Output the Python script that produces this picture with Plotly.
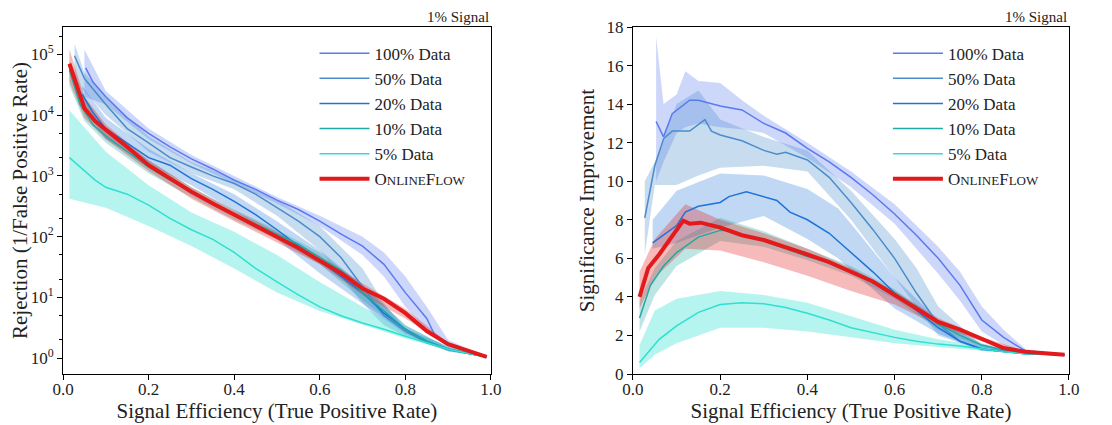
import plotly.graph_objects as go

# ---- data (x = signal efficiency) ----
# significance improvement (right panel)
x100_si = [0.053, 0.07, 0.09, 0.13, 0.15, 0.2, 0.25, 0.3, 0.35, 0.4, 0.45, 0.5, 0.55, 0.6, 0.65, 0.7, 0.75, 0.8, 0.85, 0.9, 0.95, 0.99]
y100_si = [13.1, 12.3, 13.5, 14.2, 14.2, 13.9, 13.7, 13.0, 12.5, 11.7, 11.0, 10.2, 9.3, 8.3, 7.2, 6.0, 4.6, 2.8, 1.9, 1.2, 1.05, 1.0]
x50_si = [0.027, 0.05, 0.07, 0.09, 0.13, 0.165, 0.18, 0.2, 0.25, 0.3, 0.33, 0.35, 0.4, 0.45, 0.5, 0.55, 0.6, 0.65, 0.7, 0.75, 0.8, 0.9, 0.99]
y50_si = [8.1, 10.8, 12.2, 12.6, 12.6, 13.2, 12.6, 12.4, 12.1, 11.6, 11.4, 11.5, 11.1, 10.2, 8.9, 7.5, 6.0, 4.2, 2.6, 1.7, 1.3, 1.05, 1.0]
x20_si = [0.045, 0.07, 0.1, 0.12, 0.15, 0.2, 0.22, 0.26, 0.3, 0.33, 0.36, 0.4, 0.45, 0.5, 0.55, 0.6, 0.65, 0.7, 0.75, 0.8, 0.9, 0.99]
y20_si = [6.8, 7.2, 7.7, 8.4, 8.7, 8.9, 9.2, 9.45, 9.2, 9.0, 8.4, 8.0, 7.3, 6.3, 5.3, 4.2, 3.3, 2.4, 1.7, 1.3, 1.05, 1.0]
x10_si = [0.015, 0.04, 0.07, 0.1, 0.15, 0.2, 0.22, 0.25, 0.3, 0.35, 0.4, 0.45, 0.5, 0.55, 0.6, 0.65, 0.7, 0.75, 0.8, 0.85, 0.9, 0.99]
y10_si = [2.9, 4.6, 5.6, 6.3, 7.1, 7.45, 7.45, 7.2, 6.9, 6.5, 6.1, 5.8, 5.3, 4.8, 4.2, 3.5, 2.6, 2.0, 1.5, 1.25, 1.08, 1.0]
x5_si = [0.015, 0.04, 0.06, 0.1, 0.15, 0.2, 0.25, 0.3, 0.35, 0.4, 0.45, 0.5, 0.55, 0.6, 0.65, 0.7, 0.75, 0.8, 0.85, 0.9, 0.99]
y5_si = [0.6, 1.3, 1.8, 2.5, 3.2, 3.6, 3.7, 3.65, 3.45, 3.15, 2.8, 2.4, 2.15, 1.9, 1.7, 1.55, 1.45, 1.3, 1.15, 1.05, 1.0]
xof_si = [0.015, 0.035, 0.06, 0.09, 0.115, 0.13, 0.155, 0.2, 0.25, 0.3, 0.35, 0.4, 0.45, 0.5, 0.55, 0.6, 0.65, 0.7, 0.75, 0.8, 0.85, 0.9, 0.99]
yof_si = [4.0, 5.5, 6.2, 7.2, 7.95, 7.8, 7.85, 7.6, 7.2, 6.95, 6.6, 6.2, 5.8, 5.3, 4.8, 4.1, 3.4, 2.7, 2.3, 1.8, 1.35, 1.15, 1.0]

# bands (x, lower, upper)
b100_si = ([0.053, 0.07, 0.1, 0.12, 0.15, 0.2, 0.25, 0.3, 0.4, 0.5, 0.6, 0.7, 0.75, 0.8, 0.85, 0.9, 0.99],
           [10.0, 11.0, 12.5, 12.8, 13.0, 12.8, 12.7, 12.5, 11.2, 9.7, 7.8, 5.2, 3.8, 2.2, 1.5, 1.1, 1.0],
           [17.5, 14.0, 14.5, 15.7, 15.2, 15.1, 14.2, 13.4, 12.0, 10.5, 8.8, 6.6, 5.3, 3.5, 2.3, 1.3, 1.0])
b50_si = ([0.027, 0.05, 0.1, 0.15, 0.2, 0.3, 0.4, 0.5, 0.6, 0.65, 0.7, 0.8, 0.9, 0.99],
          [6.2, 9.8, 9.8, 10.3, 10.7, 10.8, 10.5, 8.0, 5.0, 3.5, 2.0, 1.2, 1.05, 1.0],
          [10.0, 11.0, 14.0, 14.7, 13.2, 12.3, 11.6, 9.5, 7.0, 5.5, 3.5, 1.5, 1.1, 1.0])
b20_si = ([0.045, 0.1, 0.2, 0.3, 0.4, 0.47, 0.5, 0.6, 0.7, 0.8, 0.9, 0.99],
          [6.5, 6.8, 7.6, 8.2, 7.0, 6.0, 5.4, 3.4, 2.1, 1.2, 1.05, 1.0],
          [8.0, 9.5, 10.4, 10.3, 9.6, 8.6, 7.8, 5.0, 2.8, 1.5, 1.1, 1.0])
b10_si = ([0.015, 0.05, 0.1, 0.2, 0.3, 0.4, 0.5, 0.6, 0.7, 0.8, 0.9, 0.99],
          [2.2, 4.1, 5.6, 6.9, 6.6, 5.9, 5.1, 3.9, 2.3, 1.4, 1.05, 1.0],
          [3.8, 5.5, 6.9, 8.1, 7.4, 6.5, 5.6, 4.4, 2.8, 1.6, 1.1, 1.0])
b5_si = ([0.015, 0.05, 0.1, 0.2, 0.3, 0.4, 0.5, 0.6, 0.7, 0.8, 0.9, 0.99],
         [0.3, 1.0, 1.6, 2.4, 2.4, 2.2, 1.9, 1.6, 1.4, 1.2, 1.05, 1.0],
         [1.5, 3.3, 3.9, 4.3, 4.1, 3.7, 3.0, 2.3, 1.8, 1.45, 1.1, 1.0])
bof_si = ([0.015, 0.05, 0.12, 0.2, 0.3, 0.4, 0.5, 0.6, 0.7, 0.8, 0.9, 0.99],
          [3.4, 5.0, 6.5, 6.4, 5.8, 5.1, 4.3, 3.6, 2.5, 1.7, 1.12, 1.0],
          [5.3, 7.0, 8.8, 8.0, 7.3, 6.5, 5.5, 4.3, 2.9, 1.9, 1.2, 1.0])

# rejection (left panel)
x100_r = [0.053, 0.07, 0.1, 0.15, 0.2, 0.25, 0.3, 0.35, 0.4, 0.45, 0.5, 0.55, 0.6, 0.65, 0.7, 0.75, 0.8, 0.85, 0.87, 0.9, 0.95, 0.99]
y100_r = [6e4, 3.5e4, 2e4, 9e3, 5e3, 3e3, 1.9e3, 1.3e3, 850, 600, 400, 280, 180, 110, 70, 35, 12, 4.5, 2.3, 1.7, 1.3, 1.05]
x50_r = [0.027, 0.05, 0.1, 0.15, 0.2, 0.25, 0.3, 0.35, 0.4, 0.45, 0.5, 0.55, 0.6, 0.65, 0.7, 0.75, 0.8, 0.85, 0.9, 0.99]
y50_r = [9.5e4, 4e4, 1.5e4, 6e3, 3.5e3, 2e3, 1.4e3, 1e3, 750, 500, 300, 180, 100, 45, 15, 5, 2.8, 1.8, 1.4, 1.05]
x20_r = [0.045, 0.07, 0.1, 0.15, 0.2, 0.25, 0.3, 0.35, 0.4, 0.45, 0.5, 0.55, 0.6, 0.65, 0.7, 0.75, 0.8, 0.85, 0.9, 0.99]
y20_r = [2.2e4, 1.1e4, 6e3, 3.5e3, 2e3, 1.5e3, 900, 600, 380, 230, 130, 70, 40, 22, 12, 5.5, 3, 1.9, 1.4, 1.05]
x10_r = [0.015, 0.04, 0.07, 0.1, 0.15, 0.2, 0.25, 0.3, 0.35, 0.4, 0.45, 0.5, 0.55, 0.6, 0.65, 0.7, 0.75, 0.8, 0.85, 0.9, 0.99]
y10_r = [5.5e4, 1.5e4, 7e3, 4.5e3, 2.5e3, 1.4e3, 850, 550, 350, 230, 160, 110, 75, 45, 28, 12, 6, 3, 1.9, 1.4, 1.05]
x5_r = [0.015, 0.075, 0.1, 0.15, 0.2, 0.25, 0.3, 0.35, 0.4, 0.45, 0.5, 0.55, 0.6, 0.65, 0.7, 0.75, 0.8, 0.85, 0.9, 0.99]
y5_r = [2000, 850, 650, 500, 330, 200, 130, 90, 55, 30, 18, 11, 7, 5, 3.8, 3, 2.3, 1.8, 1.4, 1.05]
xof_r = [0.015, 0.05, 0.075, 0.12, 0.15, 0.2, 0.25, 0.3, 0.35, 0.4, 0.45, 0.5, 0.55, 0.6, 0.65, 0.7, 0.75, 0.8, 0.85, 0.9, 0.95, 0.99]
yof_r = [7e4, 1.3e4, 8e3, 4.5e3, 3e3, 1.5e3, 900, 550, 350, 230, 150, 100, 65, 40, 25, 14, 9.5, 5.5, 2.8, 1.7, 1.3, 1.05]

b100_r = ([0.05, 0.1, 0.2, 0.3, 0.4, 0.5, 0.6, 0.7, 0.75, 0.8, 0.85, 0.9, 0.99],
          [2e4, 1.5e4, 4e3, 1.6e3, 750, 350, 150, 50, 22, 7, 2.8, 1.5, 1.05],
          [1.2e5, 2.5e4, 6e3, 2.2e3, 1e3, 450, 220, 100, 55, 22, 7, 2, 1.05])
b50_r = ([0.027, 0.05, 0.1, 0.2, 0.3, 0.4, 0.5, 0.6, 0.7, 0.75, 0.8, 0.9, 0.99],
         [3e4, 2.5e4, 1e4, 2.5e3, 1.1e3, 600, 220, 60, 8, 3.5, 2.3, 1.3, 1.05],
         [1.5e5, 5e4, 2e4, 4.5e3, 1.7e3, 900, 400, 150, 30, 8, 3, 1.6, 1.05])
b20_r = ([0.045, 0.1, 0.2, 0.3, 0.4, 0.5, 0.6, 0.7, 0.8, 0.9, 0.99],
         [1.5e4, 4e3, 1.5e3, 700, 270, 90, 25, 8, 2.5, 1.3, 1.05],
         [3e4, 9e3, 2.8e3, 1.1e3, 500, 180, 60, 16, 3.5, 1.5, 1.05])
b10_r = ([0.015, 0.05, 0.1, 0.2, 0.3, 0.4, 0.5, 0.6, 0.7, 0.8, 0.9, 0.99],
         [3e4, 8e3, 3.5e3, 1.1e3, 450, 190, 90, 35, 9, 2.6, 1.3, 1.05],
         [8e4, 2e4, 6e3, 1.8e3, 650, 280, 130, 55, 16, 3.5, 1.5, 1.05])
b5_r = ([0.015, 0.1, 0.2, 0.3, 0.4, 0.5, 0.6, 0.7, 0.8, 0.9, 0.99],
        [420, 300, 150, 70, 30, 12, 6, 3.5, 2.1, 1.35, 1.05],
        [1.2e4, 2500, 700, 250, 120, 50, 18, 7, 3, 1.5, 1.05])
bof_r = ([0.015, 0.05, 0.1, 0.2, 0.3, 0.4, 0.5, 0.6, 0.7, 0.8, 0.9, 0.99],
         [3.5e4, 9e3, 4e3, 1.2e3, 420, 180, 80, 35, 11, 4.5, 1.6, 1.05],
         [1.2e5, 2e4, 7e3, 1.8e3, 650, 270, 120, 48, 17, 6.5, 1.8, 1.05])

names = ["100% Data", "50% Data", "20% Data", "10% Data", "5% Data",
         "O<span style='font-size:13px'>NLINE</span>F<span style='font-size:13px'>LOW</span>"]
colors = ["#5b79ef", "#4a8ccc", "#1f73d6", "#20a9a5", "#2fe0d0", "#e31a1c"]
fills = ["rgba(91,121,239,0.3)", "rgba(74,140,204,0.3)", "rgba(31,115,214,0.28)",
         "rgba(32,169,165,0.3)", "rgba(47,224,208,0.35)", "rgba(227,26,28,0.3)"]

left = [(x100_r, y100_r, b100_r), (x50_r, y50_r, b50_r), (x20_r, y20_r, b20_r),
        (x10_r, y10_r, b10_r), (x5_r, y5_r, b5_r), (xof_r, yof_r, bof_r)]
right = [(x100_si, y100_si, b100_si), (x50_si, y50_si, b50_si), (x20_si, y20_si, b20_si),
         (x10_si, y10_si, b10_si), (x5_si, y5_si, b5_si), (xof_si, yof_si, bof_si)]

FONT = "Liberation Serif"
fig = go.Figure()

for panel, xa, ya, leg in [(left, "x", "y", "legend"), (right, "x2", "y2", "legend2")]:
    # bands first
    for i, (xs, ys, (bx, lo, hi)) in enumerate(panel):
        fig.add_trace(go.Scatter(x=bx + bx[::-1], y=hi + lo[::-1], fill="toself",
                                 fillcolor=fills[i], line=dict(width=0), mode="lines",
                                 showlegend=False, hoverinfo="skip", xaxis=xa, yaxis=ya))
    for i, (xs, ys, b) in enumerate(panel):
        fig.add_trace(go.Scatter(x=xs, y=ys, mode="lines", name=names[i],
                                 line=dict(color=colors[i], width=4 if i == 5 else 1.5),
                                 xaxis=xa, yaxis=ya, legend=leg))

ax = dict(showline=True, mirror=True, linecolor="black", linewidth=1, ticks="outside",
          ticklen=5, tickcolor="black", showgrid=False, zeroline=False, automargin=False,
          tickfont=dict(family=FONT, size=17, color="#222"),
          title_font=dict(family=FONT, size=21, color="#222"))
xt = dict(range=[0, 1], tickvals=[0, 0.2, 0.4, 0.6, 0.8, 1.0],
          ticktext=["0.0", "0.2", "0.4", "0.6", "0.8", "1.0"], ticklabelstandoff=-5,
          title_text="Signal Efficiency (True Positive Rate)", title_standoff=0)

fig.update_layout(
    width=1112, height=425, plot_bgcolor="white", paper_bgcolor="white",
    margin=dict(l=55, r=51, t=19, b=59),
    font=dict(family=FONT, color="#222"),
    xaxis=dict(domain=[0, 0.4254], anchor="y", **xt, **ax),
    yaxis=dict(domain=[0, 1], anchor="x", type="log", range=[-0.26, 5.45],
               tickvals=[1, 10, 100, 1e3, 1e4, 1e5],
               ticktext=["10<sup>0</sup>", "10<sup>1</sup>", "10<sup>2</sup>",
                         "10<sup>3</sup>", "10<sup>4</sup>", "10<sup>5</sup>"],
               minor=dict(ticks="outside", ticklen=3, tickcolor="black", showgrid=False),
               title_text="Rejection (1/False Positive Rate)", title_standoff=2, **ax),
    xaxis2=dict(domain=[0.5666, 1], anchor="y2", **xt, **ax),
    yaxis2=dict(domain=[0, 1], anchor="x2", range=[0, 18], dtick=2,
                title_text="Significance Improvement", title_standoff=6, **ax),
    legend=dict(x=0.25, y=0.975, xanchor="left", yanchor="top", bgcolor="rgba(0,0,0,0)",
                font=dict(family=FONT, size=17, color="#222"), tracegroupgap=0, itemwidth=50),
    legend2=dict(x=0.82, y=0.975, xanchor="left", yanchor="top", bgcolor="rgba(0,0,0,0)",
                 font=dict(family=FONT, size=17, color="#222"), tracegroupgap=0, itemwidth=50),
    annotations=[
        dict(text="1% Signal", x=0.4254, y=1.0, xref="paper", yref="paper",
             xanchor="right", yanchor="bottom", showarrow=False, font=dict(family=FONT, size=15)),
        dict(text="1% Signal", x=1.0, y=1.0, xref="paper", yref="paper",
             xanchor="right", yanchor="bottom", showarrow=False, font=dict(family=FONT, size=15)),
    ],
)

fig.write_html("out.html")
